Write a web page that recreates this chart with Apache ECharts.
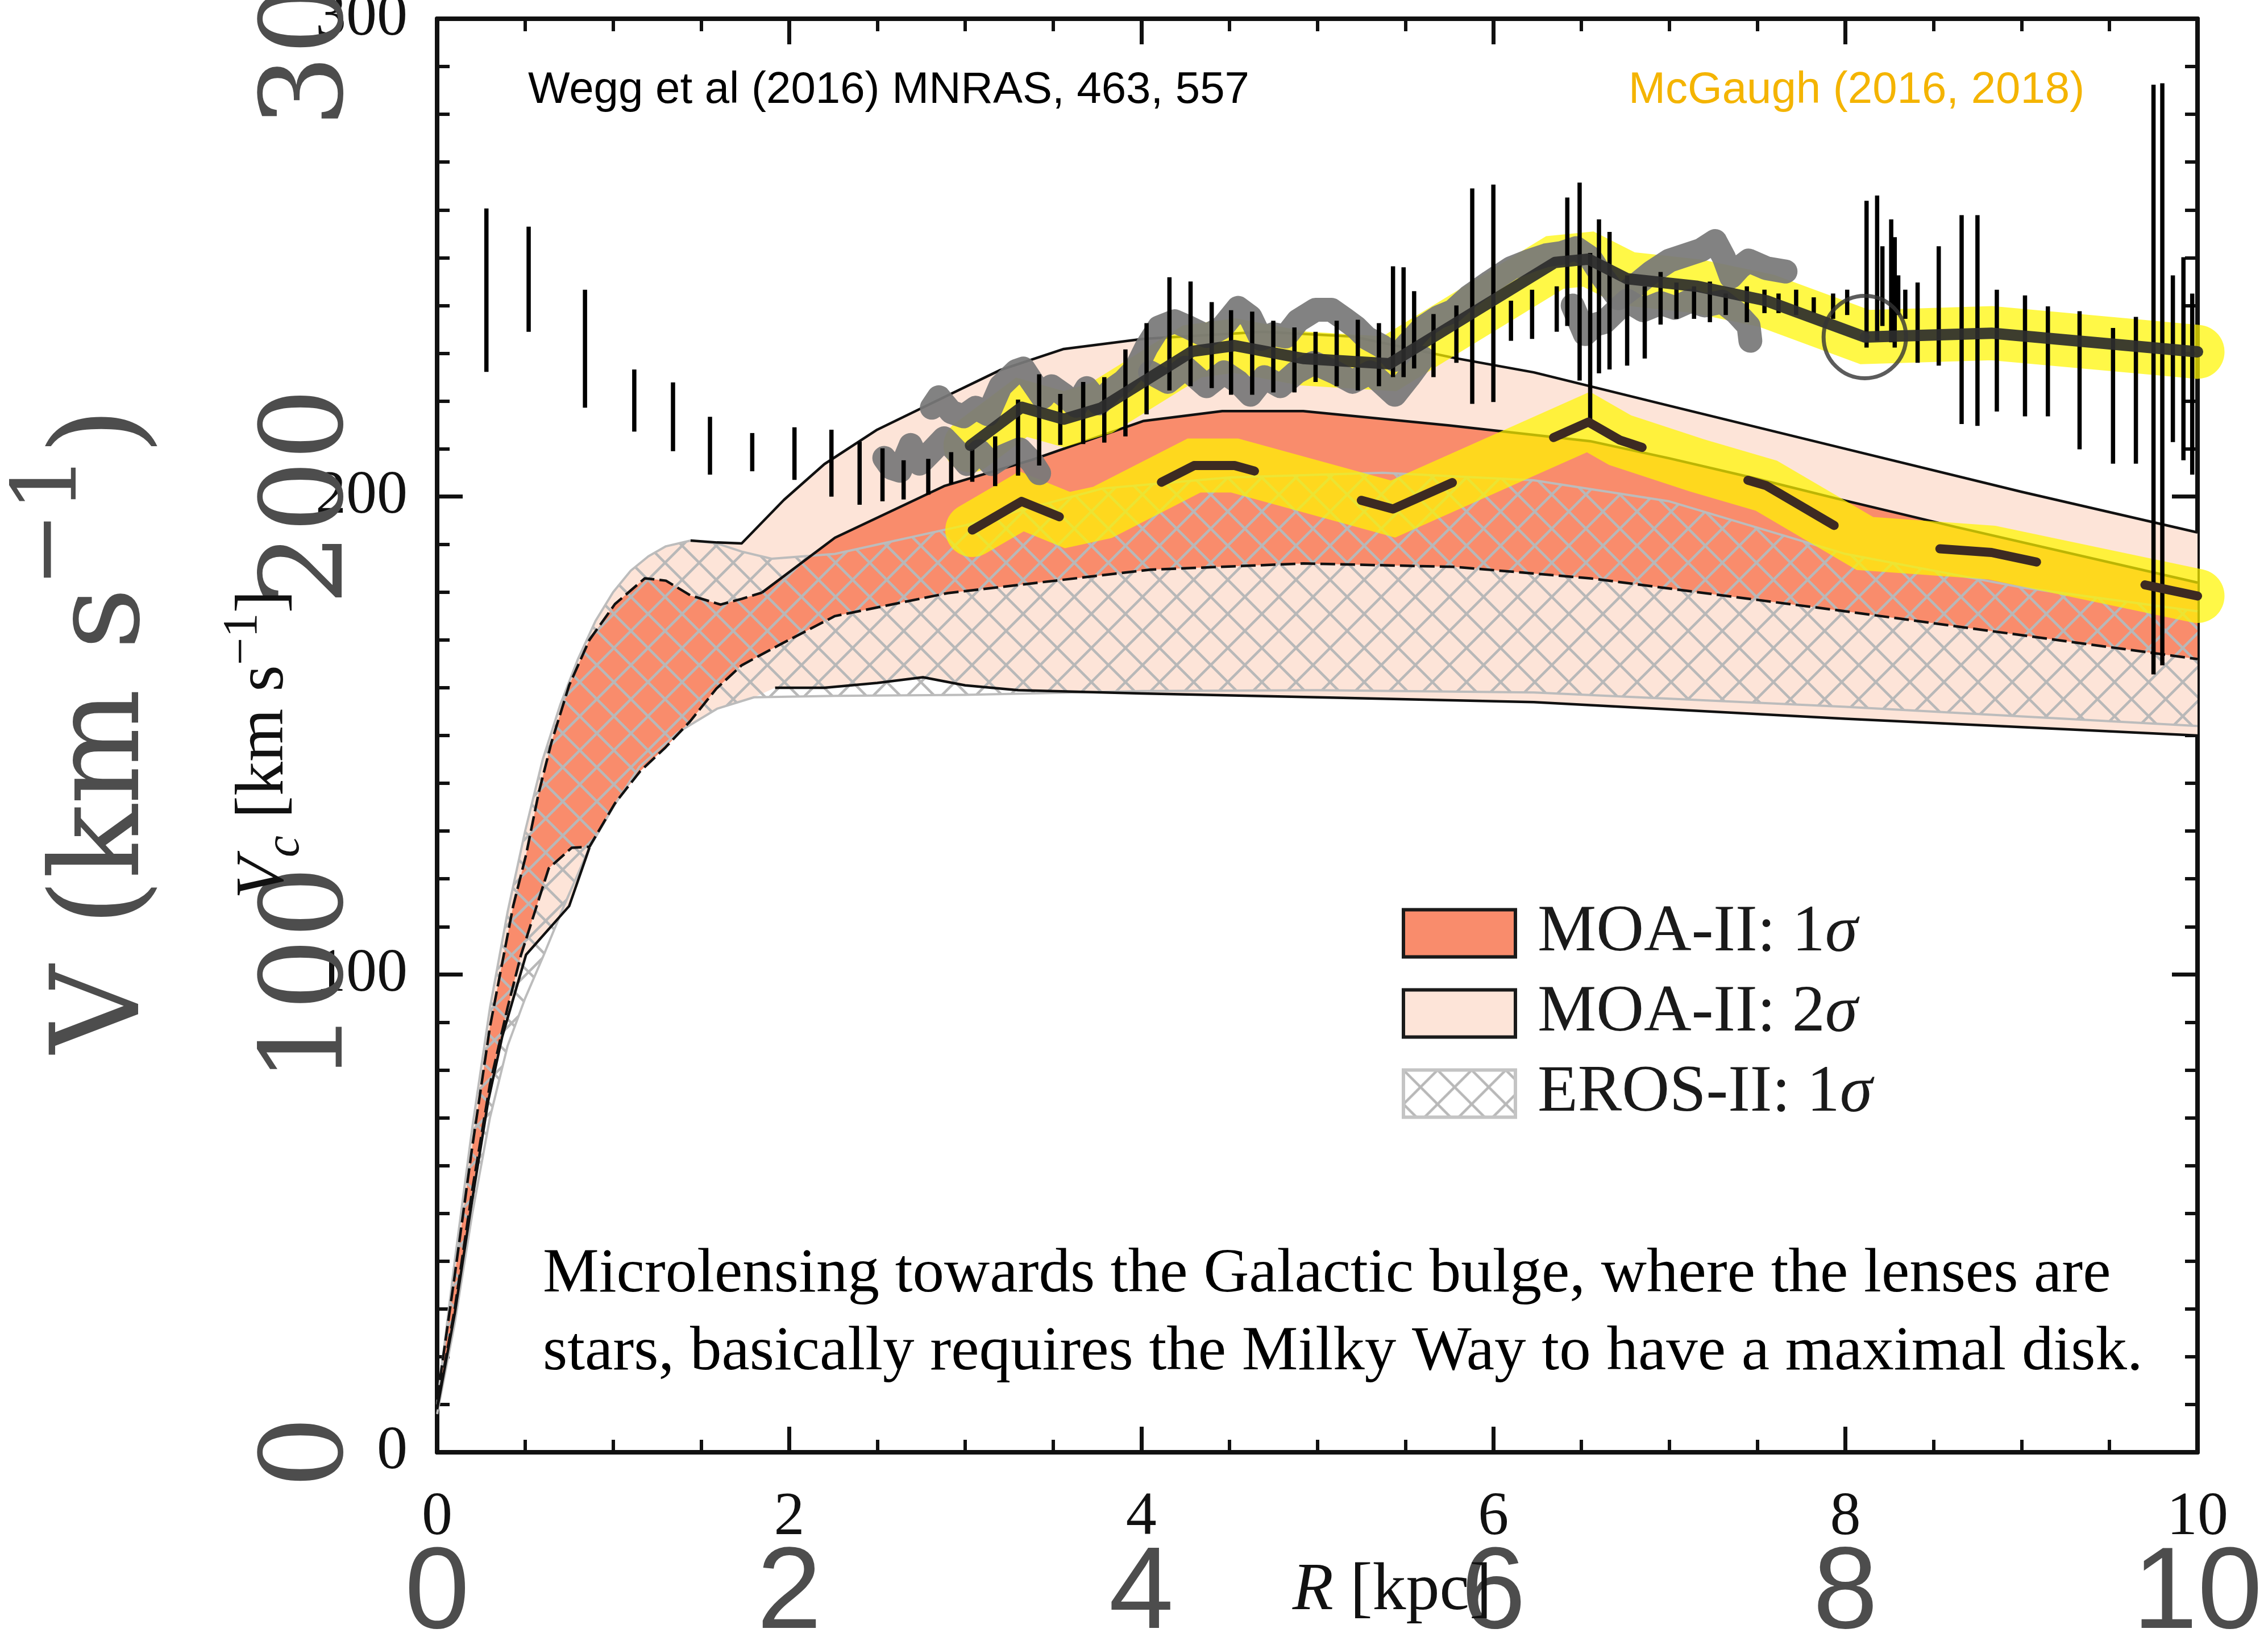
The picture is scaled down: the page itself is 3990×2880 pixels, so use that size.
<!DOCTYPE html>
<html><head><meta charset="utf-8">
<script src="https://cdn.jsdelivr.net/npm/echarts/dist/echarts.min.js"></script>
<style>html,body{margin:0;padding:0;background:#fff}#c{width:3990px;height:2880px}</style>
</head><body><div id="c"></div>
<script>
// ---------------- DATA ----------------
const X_TICKS = [0, 2, 4, 6, 8, 10];
const Y_TICKS = [0, 100, 200, 300];

// MOA-II 2 sigma band
const MOA2_UP = [[0,10],[0.05,25],[0.1,40],[0.2,68],[0.3,93],[0.4,113],[0.5,130],[0.6,145],[0.7,156.5],[0.8,166],[0.9,174],[1.0,180],[1.1,184.5],[1.2,187.5],[1.3,189.6],[1.44,190.8],[1.59,190.4],[1.73,190.2],[1.97,199.3],[2.2,206.8],[2.5,214],[2.88,220.8],[3.2,226.5],[3.56,230.9],[4.01,233],[4.69,234.5],[5.2,233.5],[5.78,229],[6.23,226],[7,219],[8,210],[9,201],[10,192.5]];
const MOA2_LO = [[0,9],[0.1,29],[0.2,53],[0.29,73.5],[0.37,87],[0.505,104.1],[0.75,114.3],[0.865,126.5],[1.01,135.6],[1.15,143.5],[1.37,150.7],[1.59,155.6],[1.8,158],[1.92,160],[2.2,160],[2.5,161],[2.76,162.2],[3.0,160.5],[3.3,159.5],[4,158.8],[5,158],[6.23,157],[8,153.5],[10,150]];
// MOA-II 1 sigma band
const MOA1_UP = [[0,11],[0.1,37],[0.2,64],[0.3,89],[0.432,114.3],[0.505,125],[0.577,138],[0.649,148.5],[0.75,160.5],[0.865,170],[1.01,177.5],[1.18,182.9],[1.3,182.4],[1.44,179.3],[1.61,177.4],[1.73,178.6],[1.845,179.9],[2.26,191.4],[2.88,202.2],[3.38,207.7],[4.01,215.8],[4.46,217.9],[4.92,217.9],[5.75,214.9],[6.55,211.6],[7,208],[7.5,203.7],[7.96,199.5],[8.62,193.7],[10,182]];
const MOA1_LO = [[0,9.5],[0.1,30],[0.2,55],[0.3,77],[0.4,93],[0.476,104],[0.634,122.2],[0.764,126.5],[0.865,126.7],[1.01,135.8],[1.153,142.5],[1.297,147.5],[1.44,153.1],[1.586,159.8],[1.73,164.7],[1.946,169],[2.26,175],[2.9,179.8],[4.05,184.7],[4.92,186],[5.78,185.3],[6.55,182.9],[8,176],[10,166]];
// EROS-II 1 sigma band
const EROS_UP = [[0,10],[0.05,25],[0.1,40],[0.2,68],[0.3,93],[0.4,113],[0.5,130],[0.6,145],[0.7,156.5],[0.8,166],[0.9,174],[1.0,180],[1.1,184.5],[1.2,187.5],[1.3,189.6],[1.44,190.8],[1.59,190.2],[1.73,188.5],[1.9,187],[2.26,188],[3,194],[3.78,201.7],[4.5,204],[5.37,205],[6.23,203.4],[7,199],[8,188],[9,181],[10,176]];
const EROS_LO = [[0,8],[0.1,27],[0.2,50],[0.3,70],[0.4,85],[0.5,95],[0.605,104],[0.72,114.3],[0.865,126.5],[1.01,135.6],[1.15,143.5],[1.37,150.7],[1.59,155.6],[1.8,158],[2.26,158.3],[3,158.5],[4,159.3],[5,159.5],[6.23,159],[8,156],[10,152]];

// McGaugh (2016, 2018) model curves
const MCG_TOTAL = [[3.03,210.7],[3.32,218.7],[3.56,216.2],[3.77,218.5],[4.29,230.4],[4.53,231.6],[4.92,228.9],[5.41,227.8],[6.35,249],[6.54,249.7],[6.76,245.6],[7.16,244],[7.55,241],[8.11,233.4],[8.83,234.2],[10,230.3]];
const MCG_BARYON = [[3.04,193],[3.32,199],[3.58,195.1],[3.78,196.7],[4.3,206.5],[4.53,206.5],[5.43,197.4],[6.54,215.6],[6.72,211.8],[7.16,206.5],[7.55,202.3],[8.11,190.2],[8.83,188.3],[10,179.2]];
const SUN_MARK = [[8.11,233.4]];

// terminal velocity data (grey)
const TERM_A = [[2.81,218.6],[2.85,220.8],[2.92,217.7],[2.99,216.8],[3.06,218.6],[3.13,217.2],[3.2,223.1],[3.29,226.3],[3.33,226.8],[3.38,224],[3.44,220.8],[3.49,223.1],[3.56,221.3],[3.63,219],[3.69,222.7],[3.76,219.5],[3.83,222.3],[3.9,224.1],[3.97,226.8],[4.03,231.3],[4.1,235.4],[4.19,236.7],[4.27,235.4],[4.37,233.6],[4.46,235.4],[4.55,239.5],[4.62,237.6],[4.68,233],[4.75,234],[4.82,233.5],[4.89,236.8],[4.99,239.1],[5.08,239.1],[5.15,237.3],[5.22,235.4],[5.28,233.2],[5.37,231.4],[5.44,228.6],[5.5,231.4],[5.6,235.4],[5.69,237.6],[5.77,238.8],[5.86,241.8],[5.98,244.9],[6.1,247.8],[6.21,249.4],[6.3,250.5],[6.39,251],[6.47,252],[6.55,250],[6.62,246],[6.71,241.5],[6.8,244],[6.9,247],[7,249.4],[7.09,250.5],[7.18,251.6],[7.26,253.5],[7.31,250],[7.35,246],[7.4,248],[7.45,249.4],[7.55,247.8],[7.66,247.1]];
const TERM_B1 = [[2.54,208.1],[2.58,206],[2.63,205.4],[2.69,210.8],[2.74,206.9],[2.81,209.5],[2.88,212.2],[2.95,209.5],[3.01,206.8],[3.08,209.5],[3.15,206.8],[3.22,208.5],[3.31,209.9],[3.38,207.2],[3.42,204.9]];
const TERM_B2 = [[4.05,226],[4.15,224],[4.25,227],[4.37,223.1],[4.47,226],[4.55,224],[4.62,221.3],[4.7,225],[4.79,223.1],[4.88,226],[4.98,228],[5.1,226],[5.2,224],[5.3,226],[5.44,221.3],[5.52,225],[5.6,229]];
const TERM_B3 = [[6.45,240],[6.52,234],[6.58,236],[6.63,236.5],[6.7,239],[6.76,241],[6.85,239],[6.95,240.5],[7.03,239.5],[7.12,241],[7.2,240],[7.3,240.8],[7.38,238.5],[7.45,235.7],[7.46,232.6]];

// Wegg et al error bars: [R, low, high]
const ERRBARS = [[0.28,226.1,260.3],[0.52,234.5,256.5],[0.84,218.6,243.3],[1.12,213.6,226.6],[1.34,209.5,223.9],[1.55,204.6,216.7],[1.79,205.3,213.3],[2.03,203.5,214.5],[2.24,200,214],[2.4,198.3,211.5],[2.53,199,210.1],[2.65,199.4,207.6],[2.79,200.4,207.9],[2.92,202.6,209.3],[3.04,203.1,209.9],[3.17,202.2,212.6],[3.3,204.4,220.3],[3.42,206.5,225.6],[3.54,210.8,221.5],[3.67,211,224],[3.79,211.3,225],[3.91,212.6,230.8],[4.03,217.2,236.3],[4.16,222.2,245.9],[4.28,223.1,245],[4.4,222.7,240.7],[4.51,221.3,239],[4.63,221.3,238.7],[4.75,221.8,236.8],[4.87,221.8,235.4],[4.99,224,234.5],[5.11,223.1,236.8],[5.23,222.2,237],[5.35,223.1,236.3],[5.43,225,248.2],[5.49,225,248],[5.55,226.8,243],[5.66,225,238.2],[5.79,228,240],[5.88,219.4,264.5],[6,219.8,265.3],[6.1,232.6,241],[6.22,233,243.3],[6.36,234.5,244],[6.42,235.7,262.6],[6.49,224.3,265.7],[6.55,215.2,251],[6.6,225.8,258],[6.66,226.6,255.4],[6.76,227.4,246.3],[6.86,228.9,244],[6.95,236,247],[7.04,237.2,244.8],[7.14,237.2,244],[7.23,236.5,245],[7.32,238,242.5],[7.44,236.5,244],[7.54,238.4,243.3],[7.62,238.4,242.5],[7.72,238,243.3],[7.82,238.4,241.7],[7.93,237.2,242.5],[8.01,238,243.3],[8.12,231.2,261.9],[8.18,232.6,263],[8.21,235.7,252.4],[8.26,232.3,258],[8.28,231.2,254.3],[8.3,238,246.3],[8.34,237.2,243.3],[8.41,228,244.8],[8.53,227.4,252.4],[8.66,215.2,258.9],[8.75,214.8,258.9],[8.86,217.8,243.3],[9.02,216.8,242.1],[9.15,216.8,239.8],[9.33,209.9,238.8],[9.52,206.9,235.3],[9.65,206.9,237.6],[9.75,162.8,286.2],[9.8,164.7,286.5],[9.86,211.4,246.3],[9.92,207.6,250.1],[9.97,204.6,242.5]];

// ---------------- STYLE HELPERS ----------------
function makeHatch(){
  const s=60, c=document.createElement('canvas'); c.width=s; c.height=s;
  const g=c.getContext('2d'); g.strokeStyle='#b8b8b8'; g.lineWidth=4.5;
  g.beginPath(); g.moveTo(0,0); g.lineTo(s,s); g.moveTo(s,0); g.lineTo(0,s); g.stroke();
  return c;
}
const HATCH = {image: makeHatch(), repeat: 'repeat'};
const C_SALMON = '#f98c6c', C_PEACH = '#fde4d8';

function band(name, up, lo, fill, z){
  return {type:'custom', name, z, silent:true, data:[[0,0]], encode:{x:0,y:1},
    itemStyle:{color: typeof fill==='string'?fill:'#ccc'},
    renderItem:(p,api)=>{
      const pts = up.map(d=>api.coord(d)).concat(lo.slice().reverse().map(d=>api.coord(d)));
      return {type:'polygon', shape:{points:pts}, style:{fill:fill, stroke:null}};
    }};
}
function line(data, color, width, type, z, cap, join){
  return {type:'line', data, z, symbol:'none', silent:true, clip:true,
    lineStyle:{color, width, type: type||'solid', cap: cap||'butt', join: join||'round'}};
}
const axisFont = {fontFamily:'Liberation Serif', fontSize:108, color:'#111'};
function xAx(pos, labels, extra){
  return Object.assign({type:'value', position:pos, min:0, max:10, interval:2,
    axisLine:{show:true, onZero:false, lineStyle:{color:'#111', width:8}},
    axisTick:{show:true, inside:true, length:45, lineStyle:{color:'#111', width:7}},
    minorTick:{show:true, splitNumber:4, length:22, lineStyle:{color:'#111', width:6}},
    splitLine:{show:false}, minorSplitLine:{show:false},
    axisLabel: labels ? Object.assign({margin:62, formatter:v=>X_TICKS.includes(v)?String(v):''}, axisFont) : {show:false}}, extra||{});
}
function yAx(pos, labels, extra){
  return Object.assign({type:'value', position:pos, min:0, max:300, interval:100,
    axisLine:{show:true, onZero:false, lineStyle:{color:'#111', width:8}},
    axisTick:{show:true, inside:true, length:45, lineStyle:{color:'#111', width:7}},
    minorTick:{show:true, splitNumber:10, length:22, lineStyle:{color:'#111', width:6}},
    splitLine:{show:false}, minorSplitLine:{show:false},
    axisLabel: labels ? Object.assign({margin:52, formatter:v=>Y_TICKS.includes(v)?String(v):''}, axisFont) : {show:false}}, extra||{});
}
const noAxisDeco = {axisLine:{show:false}, axisTick:{show:false}, minorTick:{show:false}};

const chart = echarts.init(document.getElementById('c'), null, {renderer:'canvas'});
chart.setOption({
  animation:false, backgroundColor:'#fff',
  grid:{left:769, right:124, top:33, bottom:325, containLabel:false, outerBoundsMode:'none'},
  xAxis:[
    xAx('bottom', true),
    xAx('top', false),
    Object.assign(xAx('bottom', false), noAxisDeco, {axisLabel:{show:true, margin:150, fontFamily:'Liberation Sans', fontSize:205, color:'#4d4d4d', formatter:v=>String(v)}})
  ],
  yAxis:[
    yAx('left', true),
    yAx('right', false),
    Object.assign(yAx('left', false), noAxisDeco, {axisLabel:{show:true, rotate:90, margin:120, fontFamily:'DejaVu Serif', fontSize:200, color:'#4d4d4d', formatter:v=>String(v)}})
  ],
  legend:{
    orient:'vertical', left:2461, top:1579, itemWidth:197, itemHeight:83, itemGap:25, selectedMode:false,
    formatter:n=>n.replace('σ','{s|σ}'),
    textStyle:{fontFamily:'Liberation Serif', fontSize:116, color:'#1a1a1a', lineHeight:83, padding:[0,0,0,34],
      rich:{s:{fontFamily:'Liberation Serif', fontStyle:'italic', fontSize:116, color:'#1a1a1a', lineHeight:83}}},
    data:[
      {name:'MOA-II: 1σ', icon:'rect', itemStyle:{color:C_SALMON, borderColor:'#1a1a1a', borderWidth:6}},
      {name:'MOA-II: 2σ', icon:'rect', itemStyle:{color:C_PEACH, borderColor:'#1a1a1a', borderWidth:6}},
      {name:'EROS-II: 1σ', icon:'rect', itemStyle:{color:HATCH, borderColor:'#c4c4c4', borderWidth:6}}
    ]
  },
  series:[
    band('MOA-II: 2σ', MOA2_UP, MOA2_LO, C_PEACH, 1),
    band('MOA-II: 1σ', MOA1_UP, MOA1_LO, C_SALMON, 2),
    band('EROS-II: 1σ', EROS_UP, EROS_LO, HATCH, 3),
    // outlines
    line(EROS_UP, '#bcbcbc', 4, 'solid', 4),
    line(EROS_LO, '#bcbcbc', 4, 'solid', 4),
    line(MOA2_UP.filter(d=>d[0]>=1.44), '#111', 4.5, 'solid', 4),
    line(MOA2_LO.filter(d=>d[0]<=0.865), '#111', 4.5, 'solid', 4),
    line(MOA2_LO.filter(d=>d[0]>=1.92), '#111', 4.5, 'solid', 4),
    line(MOA1_UP.filter(d=>d[0]<=1.845), '#111', 4.5, [26,9], 4),
    line(MOA1_UP.filter(d=>d[0]>=1.845), '#111', 4.5, 'solid', 4),
    line(MOA1_LO, '#111', 4.5, [26,9], 4),
    // yellow highlight bands
    line(MCG_BARYON, 'rgba(255,245,0,0.72)', 95, 'solid', 5, 'round', 'miter'),
    line(MCG_TOTAL, 'rgba(255,245,0,0.72)', 95, 'solid', 5, 'round', 'miter'),
    // grey terminal velocities
    line(TERM_A, 'rgba(120,120,120,0.93)', 42, 'solid', 6, 'round', 'round'),
    line(TERM_B1, 'rgba(120,120,120,0.93)', 42, 'solid', 6, 'round', 'round'),
    line(TERM_B2, 'rgba(120,120,120,0.93)', 42, 'solid', 6, 'round', 'round'),
    line(TERM_B3, 'rgba(120,120,120,0.93)', 42, 'solid', 6, 'round', 'round'),
    // error bars
    {type:'custom', z:7, silent:true, data:ERRBARS, encode:{x:0, y:[1,2]},
      renderItem:(p,api)=>{
        const a=api.coord([api.value(0),api.value(1)]), b=api.coord([api.value(0),api.value(2)]);
        return {type:'line', shape:{x1:a[0],y1:a[1],x2:b[0],y2:b[1]}, style:{stroke:'#000', lineWidth:7.5}};
      }},
    // McGaugh model lines
    line(MCG_TOTAL, 'rgba(45,45,45,0.92)', 20, 'solid', 8, 'round', 'round'),
    line(MCG_BARYON, '#3d2a22', 16, [172,195], 8, 'round', 'round'),
    {type:'scatter', z:9, silent:true, data:SUN_MARK, symbol:'circle', symbolSize:145,
      itemStyle:{color:'rgba(0,0,0,0)', borderColor:'#333', borderWidth:7}},
    {type:'scatter', z:9, silent:true, data:SUN_MARK, symbol:'circle', symbolSize:18, itemStyle:{color:'#333'}}
  ],
  graphic:[
    {type:'text', x:929, y:159, z:20, style:{text:'Wegg et al (2016) MNRAS, 463, 557', fontFamily:'Liberation Sans', fontSize:78, fill:'#000', align:'left', verticalAlign:'middle'}},
    {type:'text', x:2865, y:159, z:20, style:{text:'McGaugh (2016, 2018)', fontFamily:'Liberation Sans', fontSize:78, fill:'#f4b400', align:'left', verticalAlign:'middle'}},
    {type:'text', x:955, y:2243, z:20, style:{text:'Microlensing towards the Galactic bulge, where the lenses are', fontFamily:'Liberation Serif', fontSize:111, fill:'#000', align:'left', verticalAlign:'middle'}},
    {type:'text', x:955, y:2380, z:20, style:{text:'stars, basically requires the Milky Way to have a maximal disk.', fontFamily:'Liberation Serif', fontSize:111, fill:'#000', align:'left', verticalAlign:'middle'}},
    {type:'text', x:2449, y:2800, z:20, style:{text:'{i|R} [kpc]', fontFamily:'Liberation Serif', fontSize:118, fill:'#111', align:'center', verticalAlign:'middle',
      rich:{i:{fontFamily:'Liberation Serif', fontStyle:'italic', fontSize:118, fill:'#111'}}}},
    {type:'text', x:465, y:1310, rotation:Math.PI/2, z:20, style:{text:'{i|V}{sub|c} [km s{sup|−1}]', fontFamily:'Liberation Serif', fontSize:120, fill:'#111', align:'center', verticalAlign:'middle', lineHeight:160,
      rich:{i:{fontFamily:'Liberation Serif', fontStyle:'italic', fontSize:120, lineHeight:160, fill:'#111'}, sub:{fontFamily:'Liberation Serif', fontStyle:'italic', fontSize:86, lineHeight:86, verticalAlign:'bottom', fill:'#111'}, sup:{fontFamily:'Liberation Serif', fontSize:86, lineHeight:86, verticalAlign:'top', fill:'#111'}}}},
    {type:'text', x:187, y:1285, rotation:Math.PI/2, z:20, style:{text:'V (km s{sup|−1})', fontFamily:'DejaVu Serif', fontSize:215, fill:'#4d4d4d', align:'center', verticalAlign:'middle', lineHeight:348,
      rich:{sup:{fontFamily:'DejaVu Serif', fontSize:158, lineHeight:158, verticalAlign:'top', fill:'#4d4d4d'}}}}
  ]
});
</script></body></html>
